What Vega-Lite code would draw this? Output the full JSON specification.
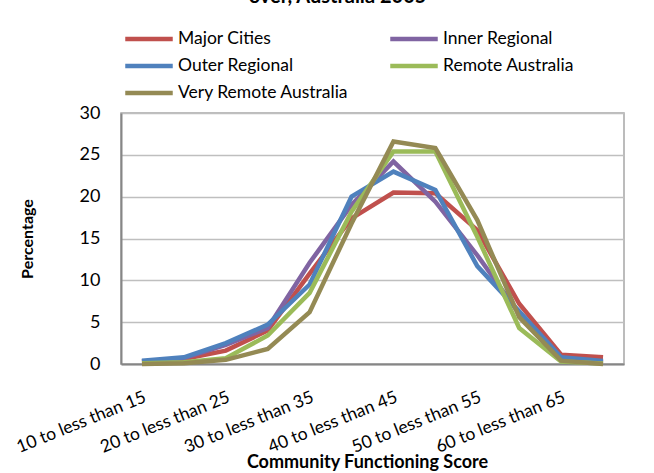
{
  "$schema": "https://vega.github.io/schema/vega-lite/v6.json",
  "autosize": {"type": "none"},
  "width": 503,
  "height": 251,
  "padding": {"left": 121, "top": 113, "right": 30, "bottom": 109},
  "background": "white",
  "title": {"text": "over, Australia 2005", "font": "Lato", "fontSize": 20, "fontWeight": "bold", "color": "#000000", "anchor": "middle", "dx": -35, "offset": 20},
  "config": {
    "font": "Lato",
    "view": {"stroke": "#A6A6A6", "strokeWidth": 1.5},
    "axis": {"labelColor": "#000000", "titleColor": "#000000"}
  },
  "data": {
    "values": [
      {"score": "10 to less than 15", "region": "Major Cities", "pct": 0.3},
      {"score": "15 to less than 20", "region": "Major Cities", "pct": 0.6},
      {"score": "20 to less than 25", "region": "Major Cities", "pct": 1.6},
      {"score": "25 to less than 30", "region": "Major Cities", "pct": 4.0},
      {"score": "30 to less than 35", "region": "Major Cities", "pct": 10.8},
      {"score": "35 to less than 40", "region": "Major Cities", "pct": 17.4},
      {"score": "40 to less than 45", "region": "Major Cities", "pct": 20.5},
      {"score": "45 to less than 50", "region": "Major Cities", "pct": 20.4},
      {"score": "50 to less than 55", "region": "Major Cities", "pct": 16.0},
      {"score": "55 to less than 60", "region": "Major Cities", "pct": 7.2},
      {"score": "60 to less than 65", "region": "Major Cities", "pct": 1.1},
      {"score": "65 to less than 70", "region": "Major Cities", "pct": 0.8},
      {"score": "10 to less than 15", "region": "Inner Regional", "pct": 0.3},
      {"score": "15 to less than 20", "region": "Inner Regional", "pct": 0.7},
      {"score": "20 to less than 25", "region": "Inner Regional", "pct": 2.3},
      {"score": "25 to less than 30", "region": "Inner Regional", "pct": 4.3},
      {"score": "30 to less than 35", "region": "Inner Regional", "pct": 12.1},
      {"score": "35 to less than 40", "region": "Inner Regional", "pct": 19.0},
      {"score": "40 to less than 45", "region": "Inner Regional", "pct": 24.2},
      {"score": "45 to less than 50", "region": "Inner Regional", "pct": 19.4},
      {"score": "50 to less than 55", "region": "Inner Regional", "pct": 13.0},
      {"score": "55 to less than 60", "region": "Inner Regional", "pct": 6.0},
      {"score": "60 to less than 65", "region": "Inner Regional", "pct": 0.6},
      {"score": "65 to less than 70", "region": "Inner Regional", "pct": 0.2},
      {"score": "10 to less than 15", "region": "Outer Regional", "pct": 0.4},
      {"score": "15 to less than 20", "region": "Outer Regional", "pct": 0.8},
      {"score": "20 to less than 25", "region": "Outer Regional", "pct": 2.5},
      {"score": "25 to less than 30", "region": "Outer Regional", "pct": 4.7},
      {"score": "30 to less than 35", "region": "Outer Regional", "pct": 9.5},
      {"score": "35 to less than 40", "region": "Outer Regional", "pct": 20.0},
      {"score": "40 to less than 45", "region": "Outer Regional", "pct": 23.0},
      {"score": "45 to less than 50", "region": "Outer Regional", "pct": 20.8},
      {"score": "50 to less than 55", "region": "Outer Regional", "pct": 11.7},
      {"score": "55 to less than 60", "region": "Outer Regional", "pct": 6.3},
      {"score": "60 to less than 65", "region": "Outer Regional", "pct": 0.8},
      {"score": "65 to less than 70", "region": "Outer Regional", "pct": 0.35},
      {"score": "10 to less than 15", "region": "Remote Australia", "pct": 0.1},
      {"score": "15 to less than 20", "region": "Remote Australia", "pct": 0.2},
      {"score": "20 to less than 25", "region": "Remote Australia", "pct": 0.7},
      {"score": "25 to less than 30", "region": "Remote Australia", "pct": 3.4},
      {"score": "30 to less than 35", "region": "Remote Australia", "pct": 8.5},
      {"score": "35 to less than 40", "region": "Remote Australia", "pct": 18.2},
      {"score": "40 to less than 45", "region": "Remote Australia", "pct": 25.4},
      {"score": "45 to less than 50", "region": "Remote Australia", "pct": 25.4},
      {"score": "50 to less than 55", "region": "Remote Australia", "pct": 15.2},
      {"score": "55 to less than 60", "region": "Remote Australia", "pct": 4.3},
      {"score": "60 to less than 65", "region": "Remote Australia", "pct": 0.3},
      {"score": "65 to less than 70", "region": "Remote Australia", "pct": 0.05},
      {"score": "10 to less than 15", "region": "Very Remote Australia", "pct": 0.0},
      {"score": "15 to less than 20", "region": "Very Remote Australia", "pct": 0.1},
      {"score": "20 to less than 25", "region": "Very Remote Australia", "pct": 0.5},
      {"score": "25 to less than 30", "region": "Very Remote Australia", "pct": 1.8},
      {"score": "30 to less than 35", "region": "Very Remote Australia", "pct": 6.2},
      {"score": "35 to less than 40", "region": "Very Remote Australia", "pct": 16.8},
      {"score": "40 to less than 45", "region": "Very Remote Australia", "pct": 26.6},
      {"score": "45 to less than 50", "region": "Very Remote Australia", "pct": 25.8},
      {"score": "50 to less than 55", "region": "Very Remote Australia", "pct": 17.2},
      {"score": "55 to less than 60", "region": "Very Remote Australia", "pct": 5.6},
      {"score": "60 to less than 65", "region": "Very Remote Australia", "pct": 0.4},
      {"score": "65 to less than 70", "region": "Very Remote Australia", "pct": 0.0}
    ]
  },
  "mark": {"type": "line", "strokeWidth": 4.5, "strokeJoin": "miter"},
  "encoding": {
    "x": {
      "field": "score", "type": "nominal", "sort": null,
      "scale": {"type": "band", "paddingInner": 0, "paddingOuter": 0},
      "axis": {
        "title": "Community Functioning Score",
        "titleFont": "Lato", "titleFontSize": 18, "titleFontWeight": "bold",
        "titleX": 246, "titleY": 89, "titleBaseline": "top", "titleAnchor": "middle",
        "labelFont": "Lato", "labelFontSize": 17.5, "labelAngle": -22, "labelAlign": "right", "labelBaseline": "top",
        "labelPadding": 24, "labelOverlap": false, "labelBound": false,
        "labelExpr": "indexof(['10 to less than 15','20 to less than 25','30 to less than 35','40 to less than 45','50 to less than 55','60 to less than 65'], datum.value) >= 0 ? datum.label : ''",
        "ticks": false, "grid": false,
        "domainColor": "#868686", "domainWidth": 2
      }
    },
    "y": {
      "field": "pct", "type": "quantitative",
      "scale": {"domain": [0, 30], "nice": false},
      "axis": {
        "title": "Percentage", "titleFont": "Lato", "titleFontSize": 16, "titleFontWeight": "bold", "titlePadding": 44,
        "values": [0, 5, 10, 15, 20, 25, 30],
        "labelFont": "Lato", "labelFontSize": 18, "labelPadding": 21,
        "ticks": false, "grid": true, "gridColor": "#BFBFBF", "gridWidth": 1.5,
        "domainColor": "#868686", "domainWidth": 2
      }
    },
    "color": {
      "field": "region", "type": "nominal",
      "scale": {
        "domain": ["Major Cities", "Inner Regional", "Outer Regional", "Remote Australia", "Very Remote Australia"],
        "range": ["#C0504D", "#8064A2", "#4F81BD", "#9BBB59", "#948A54"]
      },
      "legend": {
        "title": null, "orient": "none", "legendX": 16, "legendY": -86, "columns": 2, "direction": "horizontal",
        "symbolType": "M-2.5,0H2.5", "symbolSize": 361, "symbolStrokeWidth": 4.5,
        "labelFont": "Lato", "labelFontSize": 17.5, "labelColor": "#000000", "labelOffset": 17,
        "columnPadding": 32, "rowPadding": 6, "padding": 0, "labelLimit": 300
      }
    }
  }
}
